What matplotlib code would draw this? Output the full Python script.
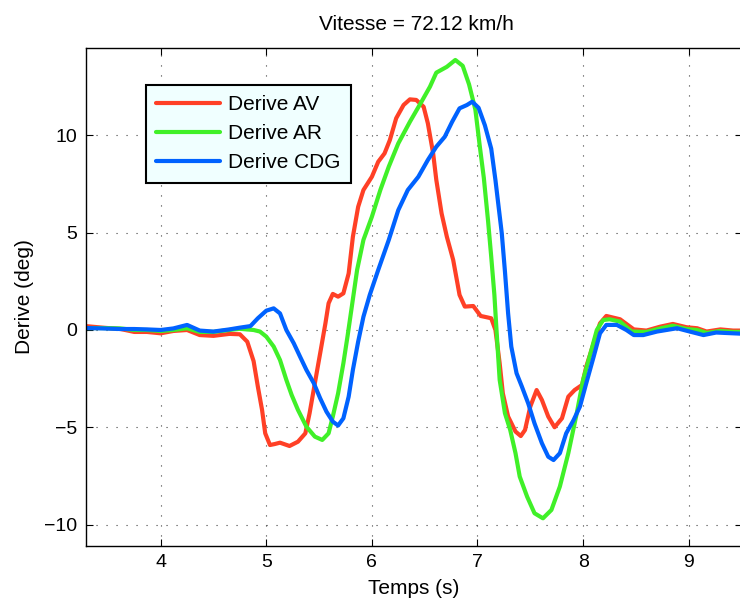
import matplotlib
matplotlib.use("Agg")
import matplotlib.pyplot as plt

plt.rcParams['font.family'] = ['Liberation Sans', 'DejaVu Sans']

title = "Vitesse = 72.12 km/h"
xlabel = "Temps (s)"
ylabel = "Derive (deg)"
labels = ["Derive AV", "Derive AR", "Derive CDG"]
xticks = [4, 5, 6, 7, 8, 9]
yticks = [-10, -5, 0, 5, 10]

t_av = [3.29, 3.45, 3.62, 3.75, 3.87, 4.0, 4.12, 4.25, 4.37, 4.5, 4.65, 4.75, 4.82, 4.88, 4.92,
        4.96, 4.99, 5.035, 5.08, 5.13, 5.22, 5.30, 5.37, 5.41, 5.46, 5.51, 5.56, 5.59, 5.63,
        5.68, 5.73, 5.78, 5.82, 5.87, 5.92, 6.0, 6.06, 6.12, 6.17, 6.23, 6.30, 6.36, 6.42,
        6.49, 6.53, 6.58, 6.61, 6.66, 6.71, 6.77, 6.83, 6.88, 6.96, 7.03, 7.09, 7.13, 7.17,
        7.21, 7.24, 7.29, 7.36, 7.41, 7.45, 7.50, 7.56, 7.61, 7.67, 7.73, 7.80, 7.86, 7.92,
        7.99, 8.03, 8.10, 8.16, 8.22, 8.35, 8.48, 8.60, 8.73, 8.85, 8.98, 9.08, 9.17, 9.30,
        9.42, 9.5]
v_av = [0.2, 0.12, 0.05, -0.1, -0.1, -0.17, -0.05, 0.0, -0.26, -0.3, -0.2, -0.22, -0.6, -1.6,
        -2.9, -4.1, -5.3, -5.9, -5.85, -5.78, -5.95, -5.73, -5.3, -4.27, -2.73, -1.2, 0.34,
        1.37, 1.85, 1.71, 1.88, 2.9, 4.78, 6.32, 7.18, 7.86, 8.63, 9.06, 9.74, 10.86, 11.54,
        11.83, 11.8, 11.45, 10.6, 9.06, 7.7, 5.98, 4.78, 3.59, 1.8, 1.2, 1.23, 0.72, 0.65,
        0.6, 0.0, -1.71, -3.25, -4.44, -5.21, -5.44, -5.13, -3.93, -3.08, -3.59, -4.44,
        -4.99, -4.53, -3.42, -3.08, -2.82, -1.88, -0.68, 0.34, 0.72, 0.55, 0.03, -0.03,
        0.17, 0.31, 0.14, 0.09, -0.08, 0.03, -0.03, -0.03]

t_ar = [3.29, 3.45, 3.62, 3.75, 3.87, 4.0, 4.12, 4.25, 4.37, 4.5, 4.65, 4.75, 4.88, 4.94, 5.0,
        5.07, 5.13, 5.19, 5.24, 5.30, 5.38, 5.46, 5.53, 5.59, 5.63, 5.68, 5.73, 5.77, 5.81,
        5.86, 5.92, 6.0, 6.08, 6.16, 6.25, 6.36, 6.47, 6.55, 6.61, 6.71, 6.79, 6.86, 6.92,
        6.98, 7.02, 7.06, 7.10, 7.13, 7.16, 7.18, 7.21, 7.26, 7.31, 7.36, 7.40, 7.47, 7.54,
        7.62, 7.70, 7.78, 7.86, 7.94, 8.0, 8.07, 8.13, 8.19, 8.25, 8.35, 8.46, 8.60, 8.73,
        8.85, 8.98, 9.08, 9.17, 9.30, 9.42, 9.5]
v_ar = [0.1, 0.1, 0.08, 0.0, 0.0, -0.05, 0.0, 0.09, -0.1, -0.1, 0.0, 0.06, 0.0, -0.08, -0.34,
        -0.85, -1.54, -2.56, -3.33, -4.1, -4.96, -5.47, -5.64, -5.3, -4.44, -3.25, -1.71,
        -0.3, 1.2, 3.08, 4.62, 5.81, 7.18, 8.38, 9.57, 10.68, 11.71, 12.48, 13.2, 13.5,
        13.85, 13.55, 12.6, 11.3, 9.5, 7.8, 5.6, 3.76, 1.8, 0.0, -2.56, -4.27, -5.13, -6.32,
        -7.52, -8.55, -9.4, -9.66, -9.23, -8.03, -6.32, -4.27, -2.56, -1.2, 0.0, 0.51, 0.55,
        0.43, -0.08, -0.1, 0.08, 0.22, 0.05, 0.0, -0.15, -0.05, -0.1, -0.1]

t_cdg = [3.29, 3.45, 3.62, 3.75, 3.87, 4.0, 4.12, 4.25, 4.37, 4.5, 4.65, 4.75, 4.85, 4.92, 5.0,
         5.07, 5.13, 5.19, 5.26, 5.32, 5.38, 5.45, 5.51, 5.57, 5.63, 5.68, 5.73, 5.78, 5.82,
         5.87, 5.92, 5.98, 6.06, 6.16, 6.25, 6.34, 6.44, 6.53, 6.61, 6.69, 6.76, 6.83, 6.90,
         6.95, 7.01, 7.07, 7.13, 7.17, 7.20, 7.23, 7.26, 7.29, 7.32, 7.37, 7.42, 7.48, 7.54,
         7.61, 7.67, 7.72, 7.78, 7.84, 7.91, 7.97, 8.03, 8.10, 8.16, 8.22, 8.32, 8.41, 8.48,
         8.57, 8.70, 8.89, 9.01, 9.14, 9.26, 9.5]
v_cdg = [0.1, 0.08, 0.05, 0.05, 0.03, 0.0, 0.08, 0.26, -0.03, -0.08, 0.03, 0.12, 0.2, 0.6,
         0.99, 1.11, 0.85, 0.0, -0.68, -1.37, -2.05, -2.73, -3.5, -4.19, -4.7, -4.9, -4.53,
         -3.42, -2.05, -0.6, 0.68, 1.8, 3.08, 4.62, 6.15, 7.18, 7.86, 8.72, 9.4, 9.91, 10.68,
         11.37, 11.54, 11.71, 11.4, 10.5, 9.3, 7.69, 6.32, 4.96, 3.0, 0.85, -0.85, -2.22,
         -2.9, -3.76, -4.79, -5.81, -6.5, -6.67, -6.32, -5.3, -4.62, -3.93, -2.73, -1.37,
         -0.17, 0.26, 0.26, 0.0, -0.26, -0.26, -0.08, 0.09, -0.08, -0.26, -0.13, -0.19]

W, H = 740, 601
fig = plt.figure(figsize=(W / 100, H / 100), dpi=100)
ax_l, ax_r, ax_t, ax_b = 85.7, 741.5, 47.7, 546.0
ax = fig.add_axes([ax_l / W, (H - ax_b) / H, (ax_r - ax_l) / W, (ax_b - ax_t) / H])

colors = ['#FF4026', '#40F028', '#0062FF']
for t, v, c, lab in zip([t_av, t_ar, t_cdg], [v_av, v_ar, v_cdg], colors, labels):
    ax.plot(t, v, color=c, lw=3.0, label=lab, solid_joinstyle='round', solid_capstyle='round')

ax.set_xlim(3.29, 9.5)
ax.set_ylim(-11.08, 14.48)
ax.set_xticks(xticks)
ax.set_yticks(yticks)
ax.set_yticklabels(['\u221210', '\u22125', '0', '5', '10'])
ax.tick_params(direction='in', length=5, width=0.8, top=True, right=True,
               labelsize=14, pad=6)
ax.grid(True, color='0.25', linestyle=(0, (1, 8)), linewidth=0.8)
for s in ax.spines.values():
    s.set_linewidth(1.0)

fig.text(416 / W, 1 - 25 / H, title, ha='center', va='center', fontsize=15)
fig.text((ax_l + ax_r) / 2 / W, 1 - 589 / H, xlabel, ha='center', va='center', fontsize=15)
fig.text(25 / W, 1 - 297 / H, ylabel, ha='center', va='center', rotation=90, fontsize=15)

leg_x = (145.7 - ax_l) / (ax_r - ax_l)
leg_y = (ax_b - 85.0) / (ax_b - ax_t)
leg = ax.legend(loc='upper left', bbox_to_anchor=(leg_x, leg_y), borderaxespad=0,
                fontsize=15, fancybox=False, framealpha=1, facecolor='#F0FFFF',
                edgecolor='black', handlelength=3.06, handletextpad=0.4,
                borderpad=0.5, labelspacing=0.48)
leg.get_frame().set_linewidth(1.5)

fig.savefig('out.png', dpi=100)
